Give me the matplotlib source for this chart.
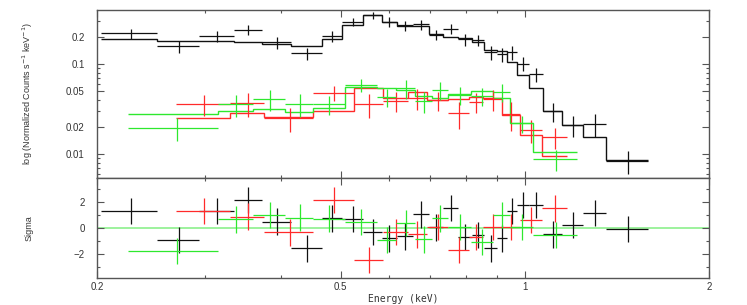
"""
XSPEC-style spectrum plot: folded data + model (top) and residuals in sigma (bottom),
three data groups (black, red, green).
"""

import numpy as np
import matplotlib.pyplot as plt
from matplotlib.ticker import FixedLocator, FixedFormatter, NullFormatter


# Black group: bin edges (keV), rate, error, folded model, residual (sigma)
black_edges = [0.203, 0.251, 0.294, 0.335, 0.372, 0.415, 0.466, 0.502, 0.544, 0.584, 0.618, 0.657, 0.698,
               0.736, 0.779, 0.819, 0.858, 0.900, 0.934, 0.970, 1.016, 1.072, 1.149, 1.246, 1.357, 1.588]
black_rate = [0.219, 0.157, 0.206, 0.240, 0.174, 0.131, 0.205, 0.295, 0.350, 0.295, 0.269, 0.276, 0.210,
              0.245, 0.188, 0.185, 0.136, 0.128, 0.136, 0.101, 0.077, 0.030, 0.021, 0.0215, 0.0084]
black_err = [0.028, 0.025, 0.028, 0.032, 0.026, 0.020, 0.029, 0.032, 0.033, 0.038, 0.035, 0.036, 0.027,
             0.032, 0.028, 0.026, 0.024, 0.022, 0.024, 0.018, 0.014, 0.0072, 0.0057, 0.0062, 0.0024]
black_model = [0.191, 0.180, 0.180, 0.174, 0.168, 0.160, 0.188, 0.271, 0.350, 0.295, 0.267, 0.267, 0.217,
               0.201, 0.195, 0.177, 0.143, 0.140, 0.106, 0.0755, 0.0545, 0.030, 0.021, 0.0156, 0.0086]
black_resid = [1.29, -0.88, 1.29, 2.15, 0.5, -1.55, 0.74, 0.7, -0.3, -0.79, -0.63, 1.04, 0.05,
               1.52, -0.66, -0.53, -1.55, -0.79, 1.29, 1.75, 1.75, -0.48, 0.23, 1.17, -0.08]

# Red group
red_edges = [0.269, 0.330, 0.375, 0.451, 0.525, 0.586, 0.644, 0.691, 0.750, 0.812, 0.855, 0.917, 0.982, 1.066, 1.172]
red_rate = [0.0359, 0.0366, 0.0249, 0.0480, 0.0357, 0.0388, 0.0416, 0.0398, 0.0283, 0.0381, 0.0408, 0.0278, 0.0185, 0.0153]
red_err = [0.0097, 0.0106, 0.0072, 0.0094, 0.0104, 0.0097, 0.0108, 0.0096, 0.0091, 0.0099, 0.0106, 0.0100, 0.0054, 0.0040]
red_model = [0.0253, 0.0283, 0.0260, 0.0300, 0.0545, 0.0422, 0.0485, 0.0398, 0.0408, 0.0430, 0.0416, 0.0271, 0.0163, 0.0095]
red_resid = [1.3, 0.88, -0.33, 2.15, -2.45, -0.28, -0.48, 0.1, -1.67, -0.7, 0.1, 0.1, 0.6, 1.5]

# Green group
green_edges = [0.2245, 0.315, 0.360, 0.406, 0.451, 0.508, 0.573, 0.617, 0.662, 0.705, 0.750, 0.817, 0.888,
               0.946, 1.033, 1.216]
green_rate = [0.0196, 0.0357, 0.0408, 0.0362, 0.0357, 0.0584, 0.0433, 0.0537, 0.0388, 0.0514, 0.0452, 0.0441,
              0.0492, 0.0219, 0.0088]
green_err = [0.0055, 0.0100, 0.0106, 0.0101, 0.0086, 0.0099, 0.0100, 0.0132, 0.0101, 0.0118, 0.0104, 0.0101,
             0.0113, 0.0046, 0.0023]
green_model = [0.0278, 0.0300, 0.0314, 0.0291, 0.0324, 0.0560, 0.0537, 0.0514, 0.0441, 0.0416, 0.0461, 0.0501,
               0.0416, 0.0219, 0.0106]
green_resid = [-1.75, 0.66, 1.0, 0.8, 0.72, 0.45, -0.91, 0.41, -0.86, 0.74, 0.1, -1.04, 1.0, 0.1, -0.53]

x_ticks = [0.2, 0.5, 1, 2]
x_ticklabels = ['0.2', '0.5', '1', '2']
x_minor = [0.3, 0.4, 0.6, 0.7, 0.8, 0.9]
y_ticks = [0.01, 0.02, 0.05, 0.1, 0.2]
y_ticklabels = ['0.01', '0.02', '0.05', '0.1', '0.2']
y_minor = [0.006, 0.007, 0.008, 0.009, 0.03, 0.04, 0.06, 0.07, 0.08, 0.09, 0.3]
res_ticks = [-2, 0, 2]
res_ticklabels = ['\u22122', '0', '2']
res_minor = [-3, -1, 1, 3]

groups = [
    ('#111111', black_edges, black_rate, black_err, black_model, black_resid),
    ('#ff2a2a', red_edges, red_rate, red_err, red_model, red_resid),
    ('#2ee82e', green_edges, green_rate, green_err, green_model, green_resid),
]

plt.rcParams['font.family'] = ['Liberation Sans', 'DejaVu Sans']
frame = '#555555'

fig = plt.figure(figsize=(7.47, 3.05), dpi=100)
ax = fig.add_axes([0.1299, 0.418, 0.8193, 0.549])
axr = fig.add_axes([0.1299, 0.0885, 0.8193, 0.3295], sharex=ax)

# light green zero line in the residual panel
axr.axhline(0, color='#8cf08c', linewidth=1.2, zorder=1)

for color, edges, rate, err, model, resid in groups:
    edges = np.array(edges)
    lo, hi = edges[:-1], edges[1:]
    cen = (lo + hi) / 2
    xerr = [cen - lo, hi - cen]
    ax.errorbar(cen, rate, xerr=xerr, yerr=err, fmt='none', ecolor=color, elinewidth=0.9, capsize=0)
    ax.stairs(model, edges, color=color, linewidth=1.0, baseline=None)
    axr.errorbar(cen, resid, xerr=xerr, yerr=np.ones(len(resid)), fmt='none', ecolor=color,
                 elinewidth=0.9, capsize=0, zorder=2)

for a in (ax, axr):
    a.set_xscale('log')
    a.set_xlim(0.2, 2)
    a.xaxis.set_major_locator(FixedLocator(x_ticks))
    a.xaxis.set_minor_locator(FixedLocator(x_minor))
    a.xaxis.set_minor_formatter(NullFormatter())
    for s in a.spines.values():
        s.set_color(frame)
        s.set_linewidth(1.0)
    a.tick_params(which='both', direction='in', top=True, right=True, color=frame, width=0.8,
                  labelsize=7, labelcolor='#333333')
    a.tick_params(axis='y', pad=9)
    a.tick_params(axis='x', pad=3)
    a.tick_params(which='major', length=5)
    a.tick_params(which='minor', length=2.5)

ax.set_yscale('log')
ax.set_ylim(0.00548, 0.398)
ax.yaxis.set_major_locator(FixedLocator(y_ticks))
ax.yaxis.set_major_formatter(FixedFormatter(y_ticklabels))
ax.yaxis.set_minor_locator(FixedLocator(y_minor))
ax.yaxis.set_minor_formatter(NullFormatter())
ax.tick_params(axis='x', labelbottom=False)
ax.set_ylabel('log (Normalized Counts s$^{-1}$ keV$^{-1}$)', fontsize=6.5, labelpad=22, color='#333333')

axr.set_ylim(-3.8, 3.85)
axr.yaxis.set_major_locator(FixedLocator(res_ticks))
axr.yaxis.set_major_formatter(FixedFormatter(res_ticklabels))
axr.yaxis.set_minor_locator(FixedLocator(res_minor))
axr.xaxis.set_major_formatter(FixedFormatter(x_ticklabels))
axr.set_ylabel('Sigma', fontsize=6.5, labelpad=29, color='#333333')
axr.set_xlabel('Energy (keV)', fontsize=7, family='DejaVu Sans Mono', labelpad=1, color='#333333')

fig.savefig('out.png', dpi=100)
